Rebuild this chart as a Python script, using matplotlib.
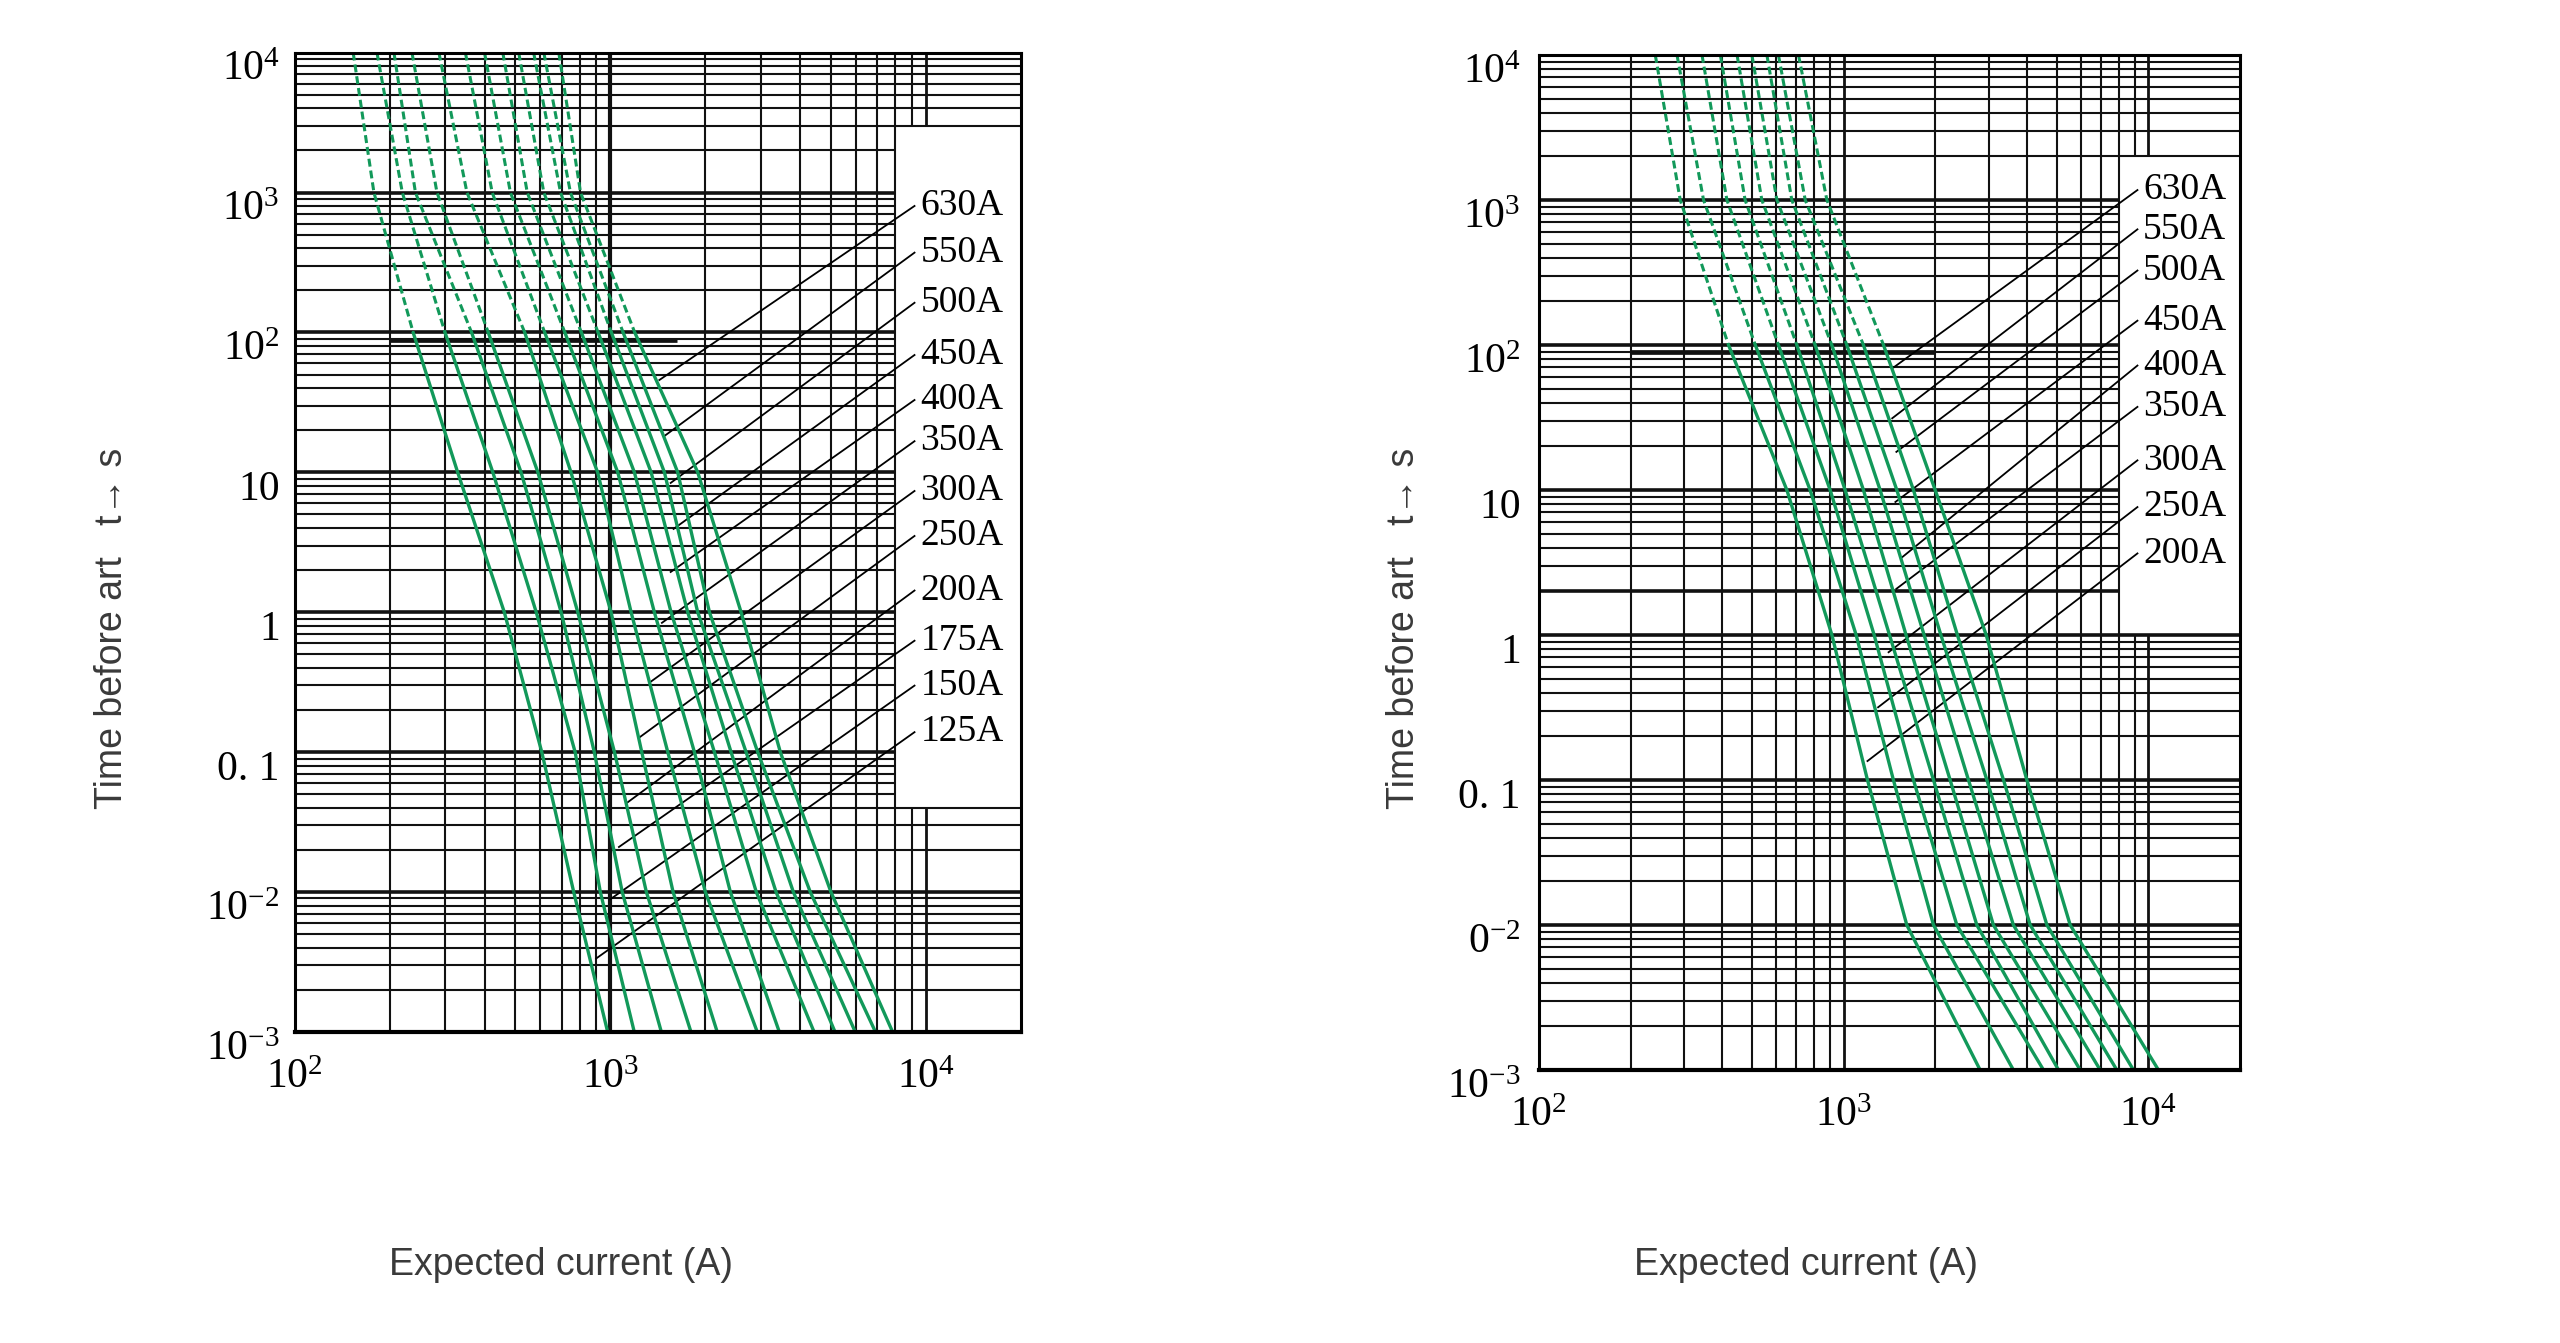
import numpy as np
import matplotlib.pyplot as plt
import matplotlib.ticker as mticker
import matplotlib.transforms as mtransforms

plt.rcParams['mathtext.fontset'] = 'custom'
plt.rcParams['mathtext.rm'] = 'Liberation Serif'
plt.rcParams['mathtext.it'] = 'Liberation Serif:italic'
plt.rcParams['mathtext.bf'] = 'Liberation Serif:bold'

GREEN = '#12995a'
INK = '#111111'
SERIF = 'Liberation Serif'
SANS = ['Liberation Sans', 'DejaVu Sans']

times = [1e4, 1e3, 1e2, 10, 1, 0.1, 0.01, 0.001]

# ---- left chart, ratings 125A .. 630A, current (A) at each time level
left_ratings = ['125A', '150A', '175A', '200A', '250A', '300A',
                '350A', '400A', '450A', '500A', '550A', '630A']
left_i_t10000 = [153, 182, 206, 235, 286, 347, 399, 456, 512, 571, 615, 686]
left_i_t1000 = [178, 219, 241, 282, 351, 422, 482, 545, 615, 695, 747, 804]
left_i_t100 = [237, 299, 363, 410, 535, 619, 717, 809, 914, 1007, 1097, 1194]
left_i_t10 = [328, 424, 521, 589, 750, 911, 1055, 1191, 1346, 1483, 1634, 1891]
left_i_t1 = [461, 582, 698, 788, 1005, 1163, 1378, 1557, 1758, 1891, 2060, 2595]
left_i_t01 = [606, 773, 889, 1030, 1257, 1520, 1846, 2136, 2412, 2692, 2930, 3456]
left_i_t001 = [765, 929, 1090, 1300, 1580, 2000, 2400, 2900, 3350, 3800, 4300, 5000]
left_i_t0001 = [980, 1190, 1450, 1800, 2180, 2920, 3430, 4420, 5150, 5970, 6920, 7840]

# label heights and where each leader line meets its curve
left_label_t = [0.139, 0.299, 0.626, 1.43, 3.51, 7.36, 16.7, 32.9, 69, 163, 372, 802]
left_leader_i = [901, 1000, 1064, 1134, 1233, 1340, 1456, 1552, 1585, 1552, 1488, 1429]
left_leader_t = [0.00335, 0.0089, 0.021, 0.0438, 0.127, 0.318, 0.84, 1.94, 3.94, 8.4, 18.3, 45.7]

# ---- right chart, ratings 200A .. 630A
right_ratings = ['200A', '250A', '300A', '350A', '400A', '450A', '500A', '550A', '630A']
right_i_t10000 = [241, 284, 343, 394, 447, 500, 560, 611, 711]
right_i_t1000 = [291, 347, 414, 475, 539, 604, 676, 748, 881]
right_i_t100 = [419, 513, 611, 702, 806, 914, 1024, 1161, 1351]
right_i_t10 = [651, 776, 903, 1011, 1161, 1317, 1494, 1694, 1996]
right_i_t1 = [915, 1099, 1259, 1414, 1602, 1836, 2084, 2361, 2935]
right_i_t01 = [1197, 1456, 1694, 1971, 2235, 2567, 2950, 3345, 3990]
right_i_t001 = [1611, 1971, 2351, 2734, 3099, 3604, 4091, 4642, 5535]
right_i_t0001 = [2803, 3604, 4524, 5068, 5970, 6942, 7872, 8925, 10780]

right_label_t = [3.65, 7.62, 16.0, 37.4, 72.1, 147, 326, 627, 1170]
right_leader_i = [1197, 1297, 1404, 1489, 1549, 1478, 1489, 1443, 1459]
right_leader_t = [0.135, 0.317, 0.76, 2.08, 3.41, 8.26, 18.3, 31.2, 70]

x_ticks = [1e2, 1e3, 1e4]
x_tick_labels = ['10$^{2}$', '10$^{3}$', '10$^{4}$']
y_ticks = [1e-3, 1e-2, 1e-1, 1, 10, 1e2, 1e3, 1e4]
left_y_tick_labels = ['10$^{-3}$', '10$^{-2}$', '0. 1', '1', '10', '10$^{2}$', '10$^{3}$', '10$^{4}$']
right_y_tick_labels = ['10$^{-3}$', '0$^{-2}$', '0. 1', '1', '10', '10$^{2}$', '10$^{3}$', '10$^{4}$']


def is_decade(v):
    return abs(np.log10(v) - round(np.log10(v))) < 1e-6


def draw_grid(ax, box_i, box_t0, box_t1, thick_i=(), thick_t=()):
    # horizontal log-paper lines, cut short where the label box sits
    t_lines = [k * 10.0 ** e for e in range(-3, 4) for k in range(1, 10)][1:]
    for t in t_lines:
        lw = 2.6 if (is_decade(t) or t in thick_t) else 1.5
        x_end = box_i if box_t0 < t < box_t1 else 2e4
        ax.hlines(t, 100, x_end, color=INK, lw=lw, zorder=1)
    # vertical lines
    i_lines = [k * 10.0 ** e for e in range(2, 5) for k in range(1, 10)]
    for i in i_lines:
        if i <= 100 or i >= 2e4:
            continue
        lw = 3.0 if i in thick_i else (2.0 if is_decade(i) else 1.5)
        if i > box_i:
            ax.vlines(i, 1e-3, box_t0, color=INK, lw=lw, zorder=1)
            ax.vlines(i, box_t1, 1e4, color=INK, lw=lw, zorder=1)
        else:
            ax.vlines(i, 1e-3, 1e4, color=INK, lw=lw, zorder=1)


def draw_curves(ax, columns):
    curves = np.array(columns).T
    for cur in curves:
        # dashed above 100 s, solid below
        ax.plot(cur[:3], times[:3], color=GREEN, lw=2.2, dashes=(2.6, 1.3), zorder=3)
        ax.plot(cur[2:], times[2:], color=GREEN, lw=2.4, zorder=3,
                solid_capstyle='round', solid_joinstyle='round')


def draw_labels(ax, ratings, label_t, leader_i, leader_t):
    for name, lt, li, tt in zip(ratings, label_t, leader_i, leader_t):
        ax.plot([9200, li], [lt, tt], color='black', lw=1.3, zorder=2)
        ax.text(9600, lt, name, family=SERIF, fontsize=27, va='center',
                ha='left', zorder=4)


def setup_axes(ax, y_labels, y_pad):
    ax.set_xscale('log')
    ax.set_yscale('log')
    ax.set_xlim(100, 2e4)
    ax.set_ylim(1e-3, 1e4)
    ax.xaxis.set_minor_locator(mticker.NullLocator())
    ax.yaxis.set_minor_locator(mticker.NullLocator())
    ax.set_xticks(x_ticks, x_tick_labels, fontfamily=SERIF, fontsize=30)
    ax.set_yticks(y_ticks, y_labels, fontfamily=SERIF, fontsize=30)
    ax.tick_params(axis='x', length=0, pad=19)
    ax.tick_params(axis='y', length=0, pad=y_pad)
    for spine in ax.spines.values():
        spine.set_linewidth(2.2)
        spine.set_zorder(5)
    ax.spines['bottom'].set_linewidth(3.0)
    # the y numbers sit a little below their lines
    shift = mtransforms.ScaledTranslation(0, -0.13, ax.figure.dpi_scale_trans)
    for lbl in ax.get_yticklabels():
        lbl.set_transform(lbl.get_transform() + shift)


fig = plt.figure(figsize=(25.6, 13.43), dpi=100)
fig.patch.set_facecolor('white')

ax_l = fig.add_axes([0.1152, 0.2316, 0.2836, 0.7292])
ax_r = fig.add_axes([0.6011, 0.2033, 0.2740, 0.7558])

# left chart
draw_grid(ax_l, 8000, 0.04, 3000, thick_i=(1000,))
ax_l.hlines(89, 200, 1620, color=INK, lw=3.4, zorder=1)
draw_curves(ax_l, [left_i_t10000, left_i_t1000, left_i_t100, left_i_t10,
                   left_i_t1, left_i_t01, left_i_t001, left_i_t0001])
draw_labels(ax_l, left_ratings, left_label_t, left_leader_i, left_leader_t)
setup_axes(ax_l, left_y_tick_labels, 11)

# right chart
draw_grid(ax_r, 8000, 1, 2000, thick_t=(2,))
ax_r.hlines(89.5, 200, 2000, color=INK, lw=3.4, zorder=1)
draw_curves(ax_r, [right_i_t10000, right_i_t1000, right_i_t100, right_i_t10,
                   right_i_t1, right_i_t01, right_i_t001, right_i_t0001])
draw_labels(ax_r, right_ratings, right_label_t, right_leader_i, right_leader_t)
setup_axes(ax_r, right_y_tick_labels, 13)

# axis titles
for x in (0.0437, 0.5486):
    fig.text(x, 0.5324, 'Time before art   t\u2192 s', rotation=90, ha='center',
             va='center', fontsize=27, color='#3a3a3a', family=SANS)
for x in (0.2191, 0.7053):
    fig.text(x, 0.058, 'Expected current (A)', ha='center', va='center',
             fontsize=27, color='#3a3a3a', family=SANS)

fig.savefig('out.png', dpi=100, facecolor='white')
